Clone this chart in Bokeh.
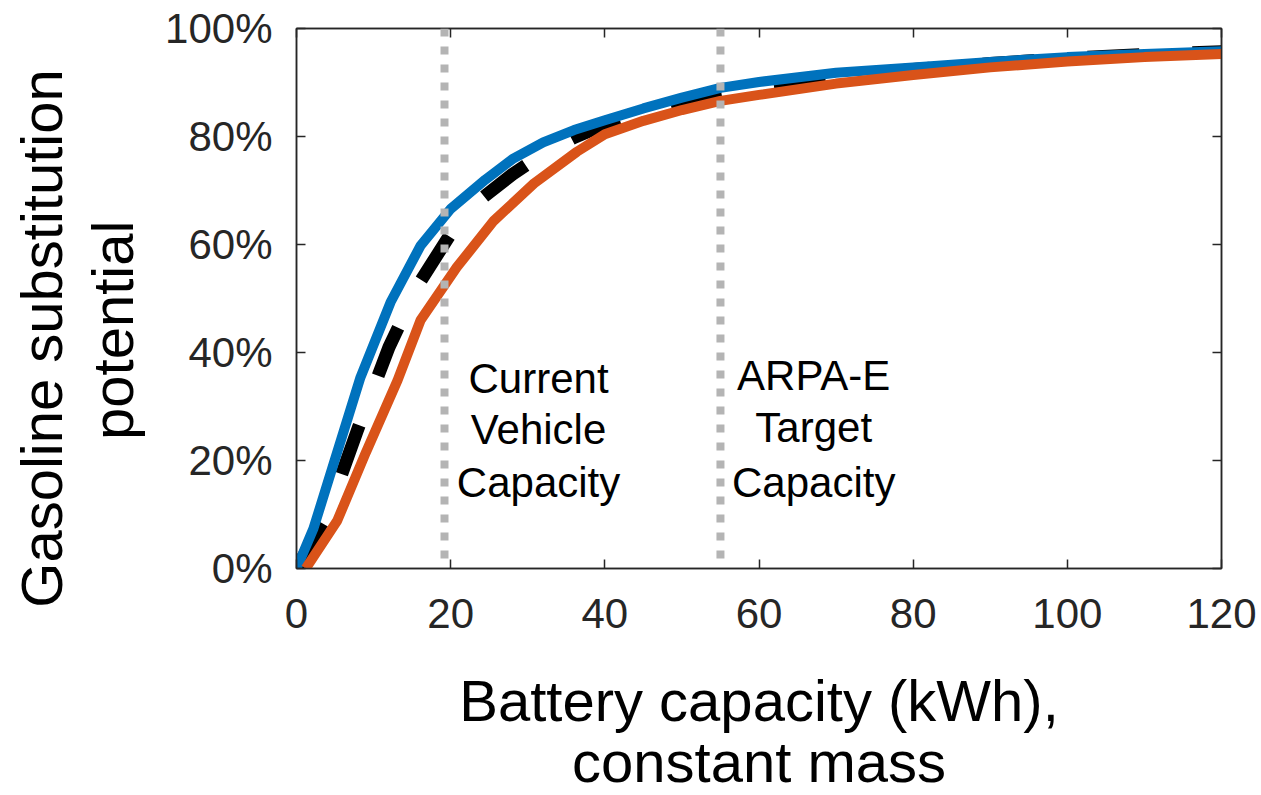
from bokeh.plotting import figure
from bokeh.models import FixedTicker, LinearAxis, Span, Label, Range1d
from bokeh.embed import file_html
from bokeh.resources import INLINE

# Gasoline substitution potential (%) versus battery capacity (kWh), constant mass
blue_kwh = [0, 2.2, 8.3, 12.2, 16.1, 20.0, 24.5, 28, 32, 36, 40, 45, 50, 55, 60, 70, 80, 90, 100, 110, 120]
blue_pct = [0, 7.4, 35.4, 49.3, 59.8, 66.6, 72.0, 75.8, 78.9, 81.2, 83.0, 85.2, 87.2, 89.0, 90.1, 91.8, 92.8, 93.8, 94.7, 95.3, 95.8]

orange_kwh = [1.2, 5.3, 9, 13.1, 16.1, 20.8, 25.6, 30.8, 36.4, 40, 45, 50, 55, 60, 70, 80, 90, 100, 110, 120]
orange_pct = [0, 8.9, 21.5, 34.8, 46.0, 55.8, 64.4, 71.3, 77.2, 80.4, 82.9, 84.9, 86.6, 87.7, 89.8, 91.4, 92.8, 93.9, 94.7, 95.3]

black_kwh = [0, 4, 8, 12, 16, 20, 24, 28, 32, 36, 40, 45, 50, 55, 60, 70, 80, 90, 100, 110, 120]
black_pct = [0, 10, 26, 41, 53, 62, 68.5, 73, 76.8, 79.8, 82.2, 84.4, 86.3, 87.9, 89.2, 91.0, 92.4, 93.5, 94.5, 95.2, 95.7]

# Reference capacities marked with dotted vertical lines
marker_kwh = [19.2, 55]
marker_text = [["Current", "Vehicle", "Capacity"], ["ARPA-E", "Target", "Capacity"]]
marker_text_kwh = [31.4, 67.1]

x_ticks = [0, 20, 40, 60, 80, 100, 120]
x_tick_labels = ["0", "20", "40", "60", "80", "100", "120"]
y_ticks = [0, 20, 40, 60, 80, 100]
y_tick_labels = ["0%", "20%", "40%", "60%", "80%", "100%"]

FONT = "Liberation Sans"
AX = "#262626"

p = figure(width=1261, height=795, output_backend="svg", toolbar_location=None,
           x_range=Range1d(0, 120), y_range=Range1d(0, 100),
           min_border_left=296, min_border_right=40, min_border_top=28, min_border_bottom=227,
           background_fill_color="white", border_fill_color="white")
p.grid.visible = False
p.outline_line_color = AX
p.outline_line_width = 1.5

bottom_axis = p.xaxis[0]
left_axis = p.yaxis[0]
bottom_axis.ticker = FixedTicker(ticks=x_ticks)
bottom_axis.major_label_overrides = {t: s for t, s in zip(x_ticks, x_tick_labels)}
left_axis.ticker = FixedTicker(ticks=y_ticks)
left_axis.major_label_overrides = {t: s for t, s in zip(y_ticks, y_tick_labels)}

# Box ticks on the top and right edges, without labels
top_axis = LinearAxis(ticker=FixedTicker(ticks=x_ticks))
right_axis = LinearAxis(ticker=FixedTicker(ticks=y_ticks))
p.add_layout(top_axis, "above")
p.add_layout(right_axis, "right")

for ax in [bottom_axis, left_axis, top_axis, right_axis]:
    ax.axis_line_color = AX
    ax.axis_line_width = 1.5
    ax.major_tick_line_color = AX
    ax.major_tick_line_width = 1.5
    ax.major_tick_in = 9
    ax.major_tick_out = 0
    ax.minor_tick_line_color = None
    ax.major_label_text_font = FONT
    ax.major_label_text_font_size = "42px"
    ax.major_label_text_color = AX

for ax in [top_axis, right_axis]:
    ax.major_label_text_font_size = "0px"
    ax.major_label_standoff = 0

bottom_axis.major_label_standoff = 30
left_axis.major_label_standoff = 24

# Curves: dashed black underneath, then blue, then orange on top
p.line(black_kwh, black_pct, line_color="black", line_width=13, line_dash="52 53")
p.line(blue_kwh, blue_pct, line_color="#0072BD", line_width=10)
p.line(orange_kwh, orange_pct, line_color="#D95319", line_width=10)

for k in marker_kwh:
    p.add_layout(Span(location=k, dimension="height", line_color="#b4b4b4",
                      line_width=8, line_dash="8 10"))

# Annotation text beside each marker line
line_y = [[35.2, 25.8, 16.0], [35.8, 26.2, 16.0]]
for xk, lines, ys in zip(marker_text_kwh, marker_text, line_y):
    for txt, yy in zip(lines, ys):
        p.add_layout(Label(x=xk, y=yy, text=txt, text_align="center",
                           text_baseline="alphabetic", text_font=FONT,
                           text_font_size="42px", text_color="black"))

# Axis titles, placed in the side panels so they are not clipped to the frame
for txt, xx, yy in [("Battery capacity (kWh),", 60.0, -24.4), ("constant mass", 60.0, -35.7)]:
    p.add_layout(Label(x=xx, y=yy, text=txt, text_align="center", text_baseline="alphabetic",
                       text_font=FONT, text_font_size="58px", text_color="black"), "below")
for txt, xx, yy in [("Gasoline substitution", -33.1, 42.6), ("potential", -23.9, 44.1)]:
    p.add_layout(Label(x=xx, y=yy, text=txt, angle=1.5707963, text_align="center",
                       text_baseline="alphabetic", text_font=FONT, text_font_size="58px",
                       text_color="black"), "left")

open("out.html", "w").write(file_html(p, INLINE))
